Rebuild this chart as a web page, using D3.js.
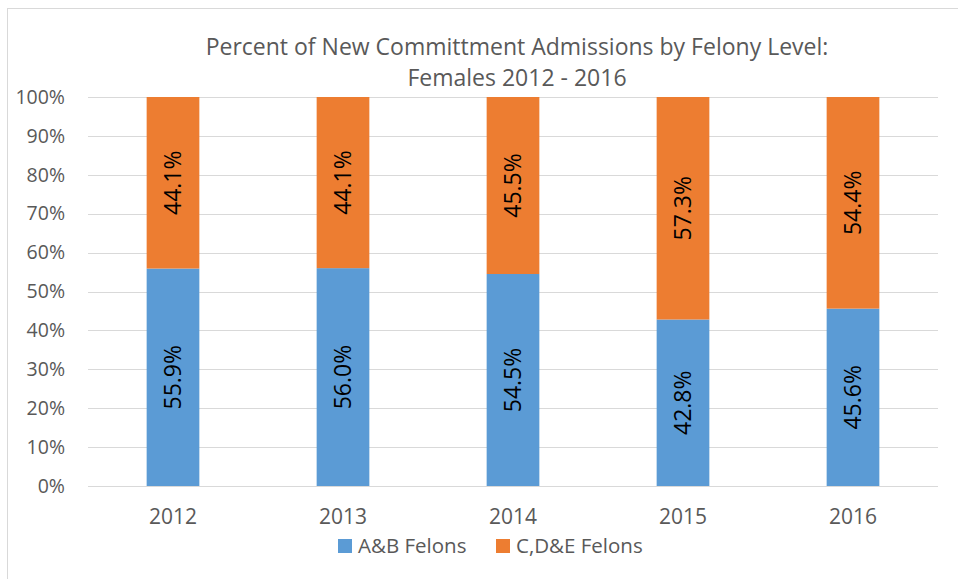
<!DOCTYPE html>
<html lang="en">
<head>
    <meta charset="UTF-8">
    <title>Felony Level - Females 2012 - 2016</title>
    <script src="https://cdn.jsdelivr.net/npm/d3@7"></script>
    <style>
        html, body {
            margin: 0;
            background: #fff;
            font-family: "Open Sans", sans-serif;
        }
    </style>
</head>
<body>
    <div id="vis"></div>
    <script>
        // data
        var years = ["2012", "2013", "2014", "2015", "2016"];
        var abFelons = [55.9, 56.0, 54.5, 42.8, 45.6];
        var cdeFelons = [44.1, 44.1, 45.5, 57.3, 54.4];
        var seriesNames = ["A&B Felons", "C,D&E Felons"];
        var yTicks = [0, 10, 20, 30, 40, 50, 60, 70, 80, 90, 100];
        var titleLines = ["Percent of New Committment Admissions by Felony Level:", "Females 2012 - 2016"];

        var colors = ["#5B9BD5", "#ED7D31"];
        var W = 958, H = 579;
        var margin = {top: 97, bottom: 93, left: 88, right: 20};
        var width = W - margin.left - margin.right;
        var height = H - margin.top - margin.bottom;

        var svg = d3.select("#vis").append("svg")
            .attr("width", W)
            .attr("height", H);

        // outer chart border
        svg.append("rect")
            .attr("x", 7.5).attr("y", 8.5)
            .attr("width", W - 6).attr("height", H)
            .attr("fill", "none")
            .attr("stroke", "#D9D9D9");

        var g = svg.append("g")
            .attr("transform", "translate(" + margin.left + "," + margin.top + ")");

        var x = d3.scaleBand()
            .domain(years)
            .range([0, width])
            .paddingInner(0.69)
            .paddingOuter(0.345);

        var y = d3.scaleLinear()
            .domain([0, 100])
            .range([height, 0]);

        // gridlines
        g.selectAll(".grid")
            .data(yTicks)
            .enter().append("line")
            .attr("x1", 0).attr("x2", width)
            .attr("y1", function(d) { return Math.round(y(d)) + 0.5; })
            .attr("y2", function(d) { return Math.round(y(d)) + 0.5; })
            .attr("stroke", "#D9D9D9")
            .attr("stroke-width", 1);

        // y axis labels
        var yAxis = d3.axisLeft(y)
            .tickValues(yTicks)
            .tickSize(0)
            .tickPadding(23)
            .tickFormat(function(d) { return d + "%"; });
        var ya = g.append("g").call(yAxis);
        ya.select(".domain").remove();
        ya.selectAll("text")
            .attr("fill", "#595959")
            .style("font-size", "19.5px")
            .style("font-family", "'Open Sans', sans-serif");

        // x axis labels
        var xAxis = d3.axisBottom(x).tickSize(0);
        var xa = g.append("g")
            .attr("transform", "translate(0," + height + ")")
            .call(xAxis);
        xa.select(".domain").remove();
        xa.selectAll("text")
            .attr("y", 38)
            .attr("dy", null)
            .attr("fill", "#595959")
            .style("font-size", "21px")
            .style("font-family", "'Open Sans', sans-serif");

        // stacked bars
        var rows = years.map(function(yr, i) {
            return {year: yr, ab: abFelons[i], cde: cdeFelons[i]};
        });
        var stack = d3.stack().keys(["ab", "cde"]);
        var layers = stack(rows);

        var layer = g.selectAll(".layer")
            .data(layers)
            .enter().append("g")
            .attr("fill", function(d, i) { return colors[i]; });

        layer.selectAll("rect")
            .data(function(d) { return d; })
            .enter().append("rect")
            .attr("x", function(d) { return x(d.data.year); })
            .attr("width", x.bandwidth())
            .attr("y", function(d) { return y(Math.min(d[1], 100)); })
            .attr("height", function(d) { return y(d[0]) - y(Math.min(d[1], 100)); });

        // data labels, rotated
        layer.selectAll("text")
            .data(function(d) { return d; })
            .enter().append("text")
            .attr("transform", function(d) {
                var cx = x(d.data.year) + x.bandwidth() / 2;
                var cy = (y(d[0]) + y(Math.min(d[1], 100))) / 2;
                return "translate(" + cx + "," + cy + ") rotate(-90)";
            })
            .attr("text-anchor", "middle")
            .attr("dy", "0.35em")
            .attr("fill", "#000")
            .style("font-size", "23px")
            .text(function(d) { return (d[1] - d[0]).toFixed(1) + "%"; });

        // title
        svg.selectAll(".title")
            .data(titleLines)
            .enter().append("text")
            .attr("x", 517)
            .attr("y", function(d, i) { return 55 + i * 31; })
            .attr("text-anchor", "middle")
            .attr("fill", "#595959")
            .style("font-size", "23px")
            .text(function(d) { return d; });

        // legend
        var legendX = [338, 496];
        var legend = svg.selectAll(".legend")
            .data(seriesNames)
            .enter().append("g")
            .attr("transform", function(d, i) { return "translate(" + legendX[i] + ",539)"; });
        legend.append("rect")
            .attr("width", 14).attr("height", 14)
            .attr("fill", function(d, i) { return colors[i]; });
        legend.append("text")
            .attr("x", 20).attr("y", 14)
            .attr("fill", "#595959")
            .style("font-size", "20.5px")
            .text(function(d) { return d; });
    </script>
</body>
</html>
